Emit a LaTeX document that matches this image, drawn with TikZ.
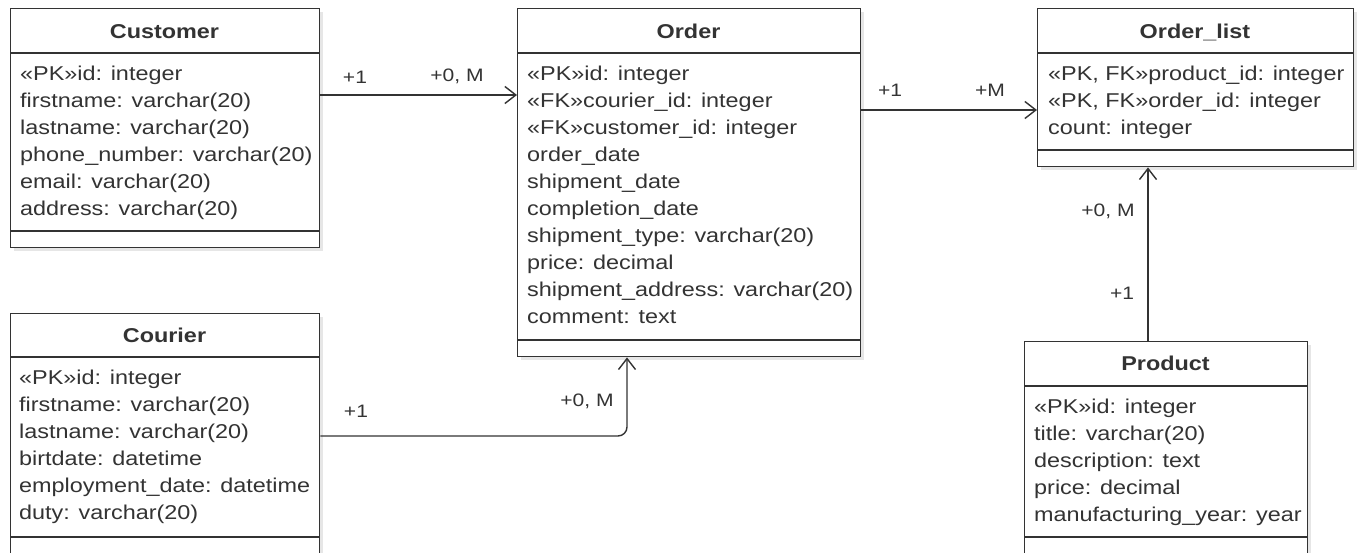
\documentclass[tikz,border=0pt]{standalone}
\usepackage{fontspec}
\setmainfont{Liberation Sans}[FakeStretch=1.17]
\usetikzlibrary{arrows.meta}
\definecolor{ink}{HTML}{333333}
\definecolor{shade}{HTML}{E6E6E6}
\begin{document}
\begin{tikzpicture}[x=1pt,y=-1pt,
  cls/.style={draw=ink, line width=1.4pt, fill=white, anchor=north west, inner sep=0pt},
  shadowbox/.style={fill=shade, draw=none},
  sep/.style={draw=ink, line width=1.4pt},
  ttl/.style={anchor=base, inner sep=0pt, text=ink, font=\fontsize{20}{24}\selectfont\bfseries},
  attr/.style={anchor=north west, inner sep=0pt, align=left, text=ink, font=\fontsize{20}{27}\selectfont},
  lbl/.style={inner sep=0pt, text=ink, font=\fontsize{18}{20}\selectfont},
  conn/.style={draw=ink, line width=1.4pt, -{Straight Barb[length=11pt,width=17pt,line width=1.4pt]}}]
\fill[white] (0,0) rectangle (1361,552);
\useasboundingbox (0,0) rectangle (1361,552);
\clip (0,0) rectangle (1361,552);

% shadows
\fill[shadowbox] (14,12) rectangle (323,251);
\fill[shadowbox] (521,12) rectangle (864,360);
\fill[shadowbox] (1041,12) rectangle (1357,170);
\fill[shadowbox] (14,317) rectangle (323,570);
\fill[shadowbox] (1028,345) rectangle (1311,570);

% Customer
\node[cls, minimum width=309pt, minimum height=239pt] (cust) at (10,8) {};
\draw[sep] (cust.west |- 0,53) -- (cust.east |- 0,53);
\draw[sep] (cust.west |- 0,231) -- (cust.east |- 0,231);
\node[ttl] (custT) at (164.5,38) {Customer};
\node[attr] (custA) at (20,65) {\rule{0pt}{15pt}«PK»id: integer\\firstname: varchar(20)\\lastname: varchar(20)\\phone\_number: varchar(20)\\email: varchar(20)\\address: varchar(20)};

% Order
\node[cls, minimum width=343pt, minimum height=348pt] (order) at (517,8) {};
\draw[sep] (order.west |- 0,53) -- (order.east |- 0,53);
\draw[sep] (order.west |- 0,340) -- (order.east |- 0,340);
\node[ttl] (orderT) at (688.5,38) {Order};
\node[attr] (orderA) at (527,65) {\rule{0pt}{15pt}«PK»id: integer\\«FK»courier\_id: integer\\«FK»customer\_id: integer\\order\_date\\shipment\_date\\completion\_date\\shipment\_type: varchar(20)\\price: decimal\\shipment\_address: varchar(20)\\comment: text};

% Order_list
\node[cls, minimum width=316pt, minimum height=158pt] (olist) at (1037,8) {};
\draw[sep] (olist.west |- 0,53) -- (olist.east |- 0,53);
\draw[sep] (olist.west |- 0,150) -- (olist.east |- 0,150);
\node[ttl] (olistT) at (1195,38) {Order\_list};
\node[attr] (olistA) at (1048,65) {\rule{0pt}{15pt}«PK, FK»product\_id: integer\\«PK, FK»order\_id: integer\\count: integer};

% Courier
\node[cls, minimum width=309pt, minimum height=255pt] (courier) at (10,313) {};
\draw[sep] (courier.west |- 0,357) -- (courier.east |- 0,357);
\draw[sep] (courier.west |- 0,537) -- (courier.east |- 0,537);
\node[ttl] (courierT) at (164.5,342) {Courier};
\node[attr] (courierA) at (19,369) {\rule{0pt}{15pt}«PK»id: integer\\firstname: varchar(20)\\lastname: varchar(20)\\birtdate: datetime\\employment\_date: datetime\\duty: varchar(20)};

% Product
\node[cls, minimum width=283pt, minimum height=225pt] (product) at (1024,341) {};
\draw[sep] (product.west |- 0,386) -- (product.east |- 0,386);
\draw[sep] (product.west |- 0,537) -- (product.east |- 0,537);
\node[ttl] (productT) at (1165.5,370.5) {Product};
\node[attr] (productA) at (1034,398) {\rule{0pt}{15pt}«PK»id: integer\\title: varchar(20)\\description: text\\price: decimal\\manufacturing\_year: year};

% connectors
\draw[conn] (cust.east |- 0,95) -- (order.west |- 0,95);
\draw[conn] (order.east |- 0,110) -- (olist.west |- 0,110);
\draw[conn, rounded corners=9pt] (courier.east |- 0,436) -| (627,0 |- order.south);
\draw[conn] (1148,0 |- product.north) -- (1148,0 |- olist.south);

% labels
\node[lbl] (l1) at (355,77) {+1};
\node[lbl] (l2) at (457,76) {+0, M};
\node[lbl] (l3) at (890,90) {+1};
\node[lbl] (l4) at (990,90) {+M};
\node[lbl] (l5) at (356,411) {+1};
\node[lbl] (l6) at (587,401) {+0, M};
\node[lbl] (l7) at (1108,211) {+0, M};
\node[lbl] (l8) at (1122,293) {+1};
\end{tikzpicture}
\end{document}
